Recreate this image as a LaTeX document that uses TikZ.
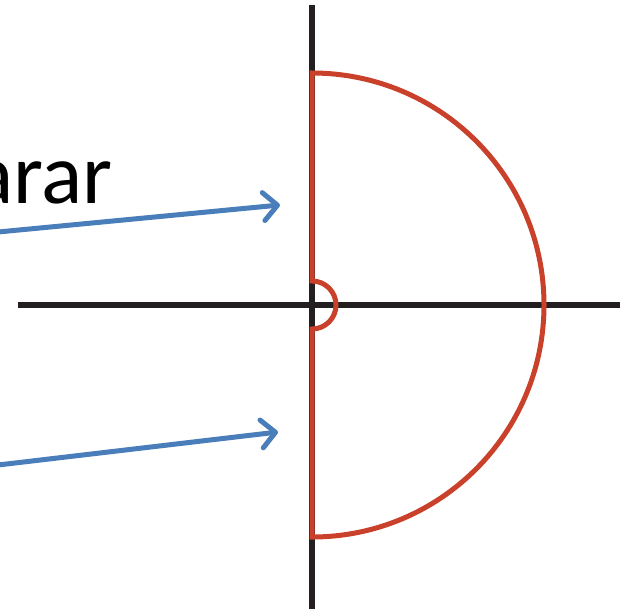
\documentclass[tikz,border=0pt]{standalone}
\usepackage{fontspec}
\setmainfont{Carlito}
\usetikzlibrary{arrows.meta}
\definecolor{axisblack}{HTML}{231F20}
\definecolor{contourred}{HTML}{C9402B}
\definecolor{arrowblue}{HTML}{4A7EBB}
\tikzset{
  axisline/.style={draw=axisblack, line width=5.5pt},
  contour/.style={draw=contourred, line width=5pt},
  pointer/.style={draw=arrowblue, line width=5pt, line cap=round,
    -{Straight Barb[length=14pt,width=28pt,line cap=round,line join=round]}},
  label/.style={font=\fontsize{86pt}{95pt}\selectfont, inner sep=0pt, anchor=base east}
}
\begin{document}
\begin{tikzpicture}[x=1pt,y=-1pt]
\clip (0,0) rectangle (628,608);
\useasboundingbox (0,0) rectangle (628,608);
% axes
\coordinate (vtop) at (312,5);
\coordinate (vbot) at (312,612);
\coordinate (hleft) at (18,305);
\coordinate (hright) at (620,305);
\coordinate (O) at (312,305);
\draw[axisline] (vtop) -- (vbot);
\draw[axisline] (hleft) -- (hright);
% Nyquist contour
\coordinate (ctop) at (312,73);
\coordinate (cbot) at (312,537);
\coordinate (itop) at (312,281);
\coordinate (ibot) at (312,329);
\draw[contour] (ctop) -- (itop) arc[start angle=-90, end angle=90, radius=24] -- (cbot)
  arc[start angle=90, end angle=-90, radius=232] -- cycle;
% label
\node[label] (txt) at (113,203) {arar};
% arrows
\coordinate (a1s) at (-2,232);
\coordinate (a1e) at (280,205);
\coordinate (a2s) at (-2,465);
\coordinate (a2e) at (278,432);
\draw[pointer] (a1s) -- (a1e);
\draw[pointer] (a2s) -- (a2e);
\end{tikzpicture}
\end{document}
